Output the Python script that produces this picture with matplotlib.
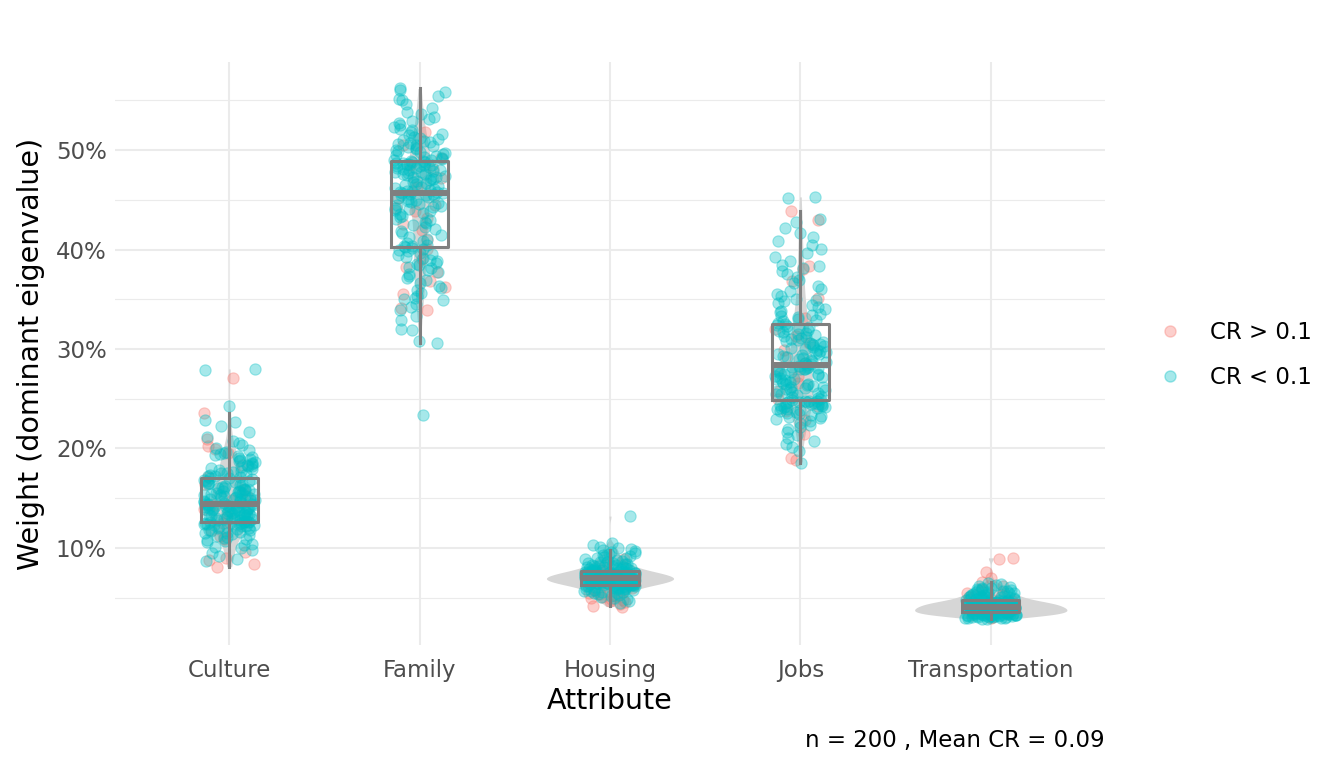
import numpy as np
import matplotlib
matplotlib.use("Agg")
import matplotlib.pyplot as plt
from matplotlib.lines import Line2D

categories = ["Culture", "Family", "Housing", "Jobs", "Transportation"]
legend_labels = ["CR > 0.1", "CR < 0.1"]
y_ticks = [10, 20, 30, 40, 50]
caption = "n = 200 , Mean CR = 0.09"

# weights in percent, respondents with CR < 0.1
culture_ok = [
    8.7, 8.9, 9.2, 9.5, 9.8, 10.0, 10.1, 10.3, 10.4, 10.6, 10.7, 10.8, 10.9, 11.0, 11.1, 11.2, 11.3, 11.4, 11.5, 11.5, 11.6, 11.7,
    11.8, 11.8, 11.9, 12.0, 12.0, 12.1, 12.1, 12.2, 12.2, 12.3, 12.3, 12.4, 12.4, 12.4, 12.5, 12.5, 12.5, 12.6, 12.6, 12.6, 12.6, 12.7,
    12.7, 12.8, 12.8, 12.9, 12.9, 13.0, 13.0, 13.0, 13.1, 13.1, 13.2, 13.2, 13.3, 13.3, 13.3, 13.4, 13.4, 13.5, 13.5, 13.6, 13.6, 13.6,
    13.7, 13.7, 13.8, 13.8, 13.8, 13.9, 13.9, 14.0, 14.0, 14.0, 14.1, 14.1, 14.1, 14.2, 14.2, 14.2, 14.3, 14.3, 14.3, 14.4, 14.4, 14.4,
    14.5, 14.5, 14.6, 14.6, 14.7, 14.7, 14.8, 14.8, 14.9, 14.9, 15.0, 15.0, 15.1, 15.1, 15.2, 15.2, 15.3, 15.3, 15.4, 15.4, 15.5, 15.5,
    15.6, 15.6, 15.7, 15.7, 15.8, 15.8, 15.9, 15.9, 16.0, 16.0, 16.1, 16.2, 16.3, 16.3, 16.4, 16.5, 16.5, 16.6, 16.7, 16.7, 16.8, 16.9,
    17.0, 17.0, 17.1, 17.2, 17.2, 17.3, 17.4, 17.5, 17.5, 17.6, 17.7, 17.8, 17.9, 18.0, 18.1, 18.2, 18.3, 18.4, 18.5, 18.6, 18.7, 18.8,
    18.9, 19.0, 19.1, 19.2, 19.3, 19.4, 19.5, 19.6, 19.8, 20.0, 20.3, 20.5, 20.8, 21.2, 21.7, 22.3, 22.7, 22.9, 24.3, 27.9, 28.0, 18.2,
]
culture_bad = [8.1, 8.4, 8.8, 9.0, 9.6, 10.9, 11.2, 11.8, 12.5, 13.2, 13.9, 14.3, 14.8, 15.2, 15.8, 16.4, 17.1, 18.3, 19.5, 19.9,
               20.2, 21.0, 23.6, 27.1]

family_ok = [
    23.4, 30.6, 30.8, 31.9, 32.0, 32.9, 33.3, 33.9, 34.2, 34.5, 34.9, 35.1, 35.3, 35.6, 35.9, 36.1, 36.3, 36.6, 36.9, 37.1, 37.3, 37.5,
    37.7, 37.9, 38.1, 38.2, 38.4, 38.6, 38.7, 38.9, 39.0, 39.2, 39.3, 39.5, 39.6, 39.7, 39.9, 40.0, 40.1, 40.2, 40.3, 40.4, 40.4, 35.0,
    40.5, 40.7, 40.9, 41.1, 41.3, 41.5, 41.7, 41.9, 42.1, 42.3, 42.5, 42.7, 42.8, 43.0, 43.1, 43.3, 43.4, 43.6, 43.7, 43.9, 44.0, 44.1,
    44.2, 44.3, 44.4, 44.5, 44.6, 44.7, 44.8, 44.9, 45.0, 45.1, 45.2, 45.3, 45.4, 45.5, 45.5, 45.6, 45.6, 45.7, 45.7, 45.8, 45.8, 45.9,
    45.9, 46.0, 46.1, 46.2, 46.3, 46.4, 46.5, 46.6, 46.7, 46.8, 46.9, 47.0, 47.1, 47.2, 47.3, 47.3, 47.4, 47.5, 47.6, 47.6, 47.7, 47.8,
    47.8, 47.9, 48.0, 48.0, 48.1, 48.2, 48.2, 48.3, 48.4, 48.4, 48.5, 48.5, 48.6, 48.6, 48.7, 48.7, 48.8, 48.8, 48.9, 48.9, 49.0, 49.0,
    49.1, 49.2, 49.3, 49.4, 49.5, 49.6, 49.7, 49.8, 49.9, 50.0, 50.1, 50.2, 50.3, 50.4, 50.5, 50.6, 50.7, 50.8, 50.9, 51.0, 51.1, 51.2,
    51.3, 51.5, 51.6, 51.8, 52.0, 52.1, 52.3, 52.5, 52.7, 52.9, 53.1, 53.3, 53.6, 53.8, 54.2, 54.6, 55.0, 55.1, 55.4, 55.8, 56.0, 56.2,
]
family_bad = [33.9, 34.1, 35.5, 36.2, 36.8, 37.7, 38.2, 39.1, 40.1, 41.0, 42.0, 42.6, 43.2, 43.9, 44.5, 45.2, 46.3, 47.2, 48.1, 48.5,
              49.2, 50.5, 51.8, 44.2]

housing_ok = [
    4.5, 4.7, 4.9, 5.0, 5.1, 5.2, 5.3, 5.4, 5.5, 5.5, 5.6, 5.6, 5.7, 5.7, 5.8, 5.8, 5.9, 5.9, 5.9, 6.0, 6.0, 6.0,
    6.1, 6.1, 6.1, 6.1, 6.2, 6.2, 6.2, 6.2, 6.3, 6.3, 6.3, 6.3, 6.3, 6.4, 6.4, 6.4, 6.4, 6.4, 6.4, 6.4, 6.5, 6.5,
    6.5, 6.5, 6.5, 6.5, 6.6, 6.6, 6.6, 6.6, 6.6, 6.6, 6.7, 6.7, 6.7, 6.7, 6.7, 6.7, 6.8, 6.8, 6.8, 6.8, 6.8, 6.8,
    6.8, 6.9, 6.9, 6.9, 6.9, 6.9, 6.9, 6.9, 7.0, 7.0, 7.0, 7.0, 7.0, 7.0, 7.0, 7.0, 6.5, 6.6, 6.7, 6.8, 6.9, 7.0,
    7.0, 7.1, 7.1, 7.1, 7.1, 7.1, 7.1, 7.2, 7.2, 7.2, 7.2, 7.2, 7.2, 7.3, 7.3, 7.3, 7.3, 7.3, 7.3, 7.4, 7.4, 7.4,
    7.4, 7.4, 7.5, 7.5, 7.5, 7.5, 7.5, 7.6, 7.6, 7.6, 7.6, 7.6, 7.7, 7.7, 7.7, 7.7, 7.1, 7.2, 7.3, 7.4, 7.5, 7.6,
    7.8, 7.8, 7.8, 7.9, 7.9, 7.9, 8.0, 8.0, 8.0, 8.1, 8.1, 8.1, 8.2, 8.2, 8.3, 8.3, 8.4, 8.4, 8.5, 8.5, 8.6, 8.6,
    8.7, 8.7, 8.8, 8.9, 9.0, 9.0, 9.1, 9.2, 9.3, 9.4, 9.5, 9.6, 9.7, 9.8, 9.9, 10.0, 10.1, 10.3, 10.5, 13.2, 7.8, 8.2,
]
housing_bad = [4.1, 4.2, 4.4, 4.6, 4.7, 4.8, 4.9, 5.0, 5.1, 5.2, 5.3, 5.4, 5.6, 5.8, 6.0, 6.2, 6.5, 6.8, 7.1, 7.4,
               7.8, 8.3, 8.9, 5.5]

jobs_ok = [
    18.5, 19.7, 20.1, 20.4, 20.8, 21.1, 21.4, 21.7, 22.0, 22.2, 22.4, 22.6, 22.8, 23.0, 23.1, 23.2, 23.3, 23.4, 23.5, 23.6, 23.7, 23.8,
    23.9, 24.0, 24.0, 24.1, 24.1, 24.2, 24.2, 24.3, 24.3, 24.4, 24.4, 24.5, 24.5, 24.5, 24.6, 24.6, 24.7, 24.7, 24.7, 24.8, 24.8, 24.8,
    24.9, 25.0, 25.1, 25.2, 25.3, 25.4, 25.5, 25.6, 25.7, 25.8, 25.9, 26.0, 26.1, 26.2, 26.3, 26.4, 26.5, 26.6, 26.7, 26.8, 26.9, 27.0,
    27.1, 27.2, 27.3, 27.4, 27.5, 27.6, 27.7, 27.8, 27.9, 28.0, 28.0, 28.1, 28.1, 28.2, 28.2, 26.0, 26.5, 27.0, 27.5, 28.0, 25.5, 26.2,
    28.3, 28.4, 28.5, 28.6, 28.7, 28.8, 28.9, 29.0, 29.1, 29.2, 29.3, 29.4, 29.5, 29.6, 29.7, 29.8, 29.9, 30.0, 30.1, 30.2, 30.3, 30.4,
    30.5, 30.6, 30.7, 30.8, 30.9, 31.0, 31.1, 31.2, 31.3, 31.4, 31.5, 31.6, 31.7, 31.8, 31.9, 32.0, 32.1, 32.2, 32.3, 32.4, 29.5, 30.5,
    32.5, 32.6, 32.8, 32.9, 33.0, 33.2, 33.3, 33.5, 33.7, 33.8, 34.0, 34.2, 34.4, 34.6, 34.8, 35.0, 35.3, 35.5, 35.8, 36.0, 36.3, 36.6,
    36.9, 37.2, 37.5, 37.8, 38.1, 38.3, 38.5, 38.9, 39.3, 39.7, 40.1, 40.5, 40.9, 41.3, 41.7, 42.2, 42.8, 43.1, 45.2, 45.3, 33.4, 34.9,
]
jobs_bad = [18.8, 19.0, 21.5, 22.9, 23.8, 24.3, 25.0, 25.8, 26.6, 27.3, 27.9, 28.6, 29.2, 29.9, 30.6, 31.3, 32.0, 33.1, 35.1, 36.8,
            38.0, 38.3, 43.0, 43.9]

transportation_ok = [
    2.9, 2.9, 3.0, 3.0, 3.0, 3.1, 3.1, 3.1, 3.1, 3.2, 3.2, 3.2, 3.2, 3.2, 3.3, 3.3, 3.3, 3.3, 3.3, 3.3, 3.4, 3.4,
    3.4, 3.4, 3.4, 3.4, 3.4, 3.5, 3.5, 3.5, 3.5, 3.5, 3.5, 3.5, 3.5, 3.0, 3.1, 3.2, 3.3, 3.4, 3.5, 3.2, 3.3, 3.4,
    3.6, 3.6, 3.6, 3.6, 3.6, 3.6, 3.6, 3.7, 3.7, 3.7, 3.7, 3.7, 3.7, 3.7, 3.8, 3.8, 3.8, 3.8, 3.8, 3.8, 3.8, 3.9,
    3.9, 3.9, 3.9, 3.9, 3.9, 3.9, 4.0, 4.0, 4.0, 4.0, 4.0, 4.0, 4.0, 3.6, 3.7, 3.8, 3.9, 4.0, 3.7, 3.8, 3.9, 4.0,
    4.1, 4.1, 4.1, 4.1, 4.1, 4.1, 4.2, 4.2, 4.2, 4.2, 4.2, 4.2, 4.3, 4.3, 4.3, 4.3, 4.3, 4.3, 4.4, 4.4, 4.4, 4.4,
    4.4, 4.4, 4.5, 4.5, 4.5, 4.5, 4.5, 4.5, 4.6, 4.6, 4.6, 4.6, 4.6, 4.1, 4.2, 4.3, 4.4, 4.5, 4.6, 4.2, 4.3, 4.4,
    4.7, 4.7, 4.7, 4.7, 4.8, 4.8, 4.8, 4.8, 4.9, 4.9, 4.9, 5.0, 5.0, 5.0, 5.1, 5.1, 5.1, 5.2, 5.2, 5.2, 5.3, 5.3,
    5.4, 5.4, 5.5, 5.5, 5.6, 5.6, 5.7, 5.7, 5.8, 5.8, 5.9, 5.9, 6.0, 6.0, 6.1, 6.2, 6.3, 6.4, 6.5, 4.8, 5.0, 5.3,
]
transportation_bad = [9.0, 8.9, 7.6, 7.0, 6.6, 6.2, 5.8, 5.5, 5.3, 5.1, 4.9, 4.7, 4.5, 4.4, 4.2, 4.1, 3.9, 3.8, 3.6, 3.5,
                      3.4, 3.3, 3.1, 3.0]

ok_series = [culture_ok, family_ok, housing_ok, jobs_ok, transportation_ok]
bad_series = [culture_bad, family_bad, housing_bad, jobs_bad, transportation_bad]

RED = "#F8766D"
TEAL = "#00BFC4"
BOX_GREY = "#7F7F7F"
VIOLIN_GREY = "#D6D6D6"

W, H, DPI = 1344, 768, 100
fig = plt.figure(figsize=(W / DPI, H / DPI), dpi=DPI)
ax = fig.add_axes([115 / W, 1 - 645 / H, 990 / W, 583 / H])


def jitter(n, seed, width=0.135):
    i = np.arange(n) + seed * 1000
    h = np.sin(i * 12.9898 + 78.233) * 43758.5453
    return (h - np.floor(h) - 0.5) * 2 * width


def kde(vals, grid):
    vals = np.asarray(vals)
    n = len(vals)
    sd = vals.std(ddof=1)
    q75, q25 = np.percentile(vals, [75, 25])
    bw = 0.9 * min(sd, (q75 - q25) / 1.34) * n ** -0.2
    z = (grid[:, None] - vals[None, :]) / bw
    return np.exp(-0.5 * z ** 2).sum(axis=1) / (n * bw * np.sqrt(2 * np.pi))


all_vals = [np.array(b + o) for o, b in zip(ok_series, bad_series)]

# violins (equal area)
grids, dens = [], []
for v in all_vals:
    g = np.linspace(v.min(), v.max(), 512)
    grids.append(g)
    dens.append(kde(v, g))
scale = 0.40 / max(d.max() for d in dens)
for i, (g, d) in enumerate(zip(grids, dens)):
    ax.fill_betweenx(g, i - d * scale, i + d * scale, color=VIOLIN_GREY, lw=0, zorder=1)

# jittered points
for i, (o, b) in enumerate(zip(ok_series, bad_series)):
    jb = jitter(len(b), 2 * i + 1)
    jo = jitter(len(o), 2 * i + 2)
    ax.scatter(i + jb, b, s=66, color=RED, alpha=0.35, edgecolors=RED, linewidths=0.8, zorder=2)
    ax.scatter(i + jo, o, s=66, color=TEAL, alpha=0.35, edgecolors=TEAL, linewidths=0.8, zorder=2)

# boxplots
ax.boxplot(all_vals, positions=range(len(categories)), widths=0.3, showfliers=False, showcaps=False,
           patch_artist=False, manage_ticks=False,
           boxprops=dict(color=BOX_GREY, lw=2.2), whiskerprops=dict(color=BOX_GREY, lw=2.2),
           medianprops=dict(color=BOX_GREY, lw=4.3, solid_capstyle="butt"), zorder=3)

# axes & grid
lo = min(v.min() for v in all_vals)
hi = max(v.max() for v in all_vals)
pad = (hi - lo) * 0.05
ax.set_ylim(lo - pad, hi + pad)
ax.set_xlim(-0.6, len(categories) - 0.4)
ax.set_yticks(y_ticks)
ax.set_yticklabels([f"{t}%" for t in y_ticks])
ax.set_yticks([t - 5 for t in y_ticks] + [y_ticks[-1] + 5], minor=True)
ax.set_xticks(range(len(categories)))
ax.set_xticklabels(categories)
ax.grid(True, which="major", color="#EBEBEB", lw=1.5, zorder=0)
ax.grid(True, which="minor", axis="y", color="#EBEBEB", lw=0.8, zorder=0)
ax.set_axisbelow(True)
for s in ax.spines.values():
    s.set_visible(False)
ax.tick_params(which="both", length=0, labelsize=16.5, labelcolor="#4D4D4D")
ax.tick_params(axis="x", pad=10)
ax.tick_params(axis="y", pad=6)
ax.set_xlabel("Attribute", fontsize=20.5, labelpad=4)
ax.set_ylabel("Weight (dominant eigenvalue)", fontsize=20.5, labelpad=8)

fig.text(1105 / W, 1 - 740 / H, caption, ha="right", va="center", fontsize=16.5)

handles = [Line2D([], [], marker="o", ls="", markersize=8, color=RED, alpha=0.35),
           Line2D([], [], marker="o", ls="", markersize=8, color=TEAL, alpha=0.35)]
fig.legend(handles, legend_labels, loc="center left", bbox_to_anchor=(1147 / W, 1 - 355 / H),
           bbox_transform=fig.transFigure, frameon=False, fontsize=16.5, borderpad=0, borderaxespad=0,
           handlelength=2.0, handletextpad=0.75, labelspacing=0.95)

fig.savefig("out.png", dpi=DPI)
